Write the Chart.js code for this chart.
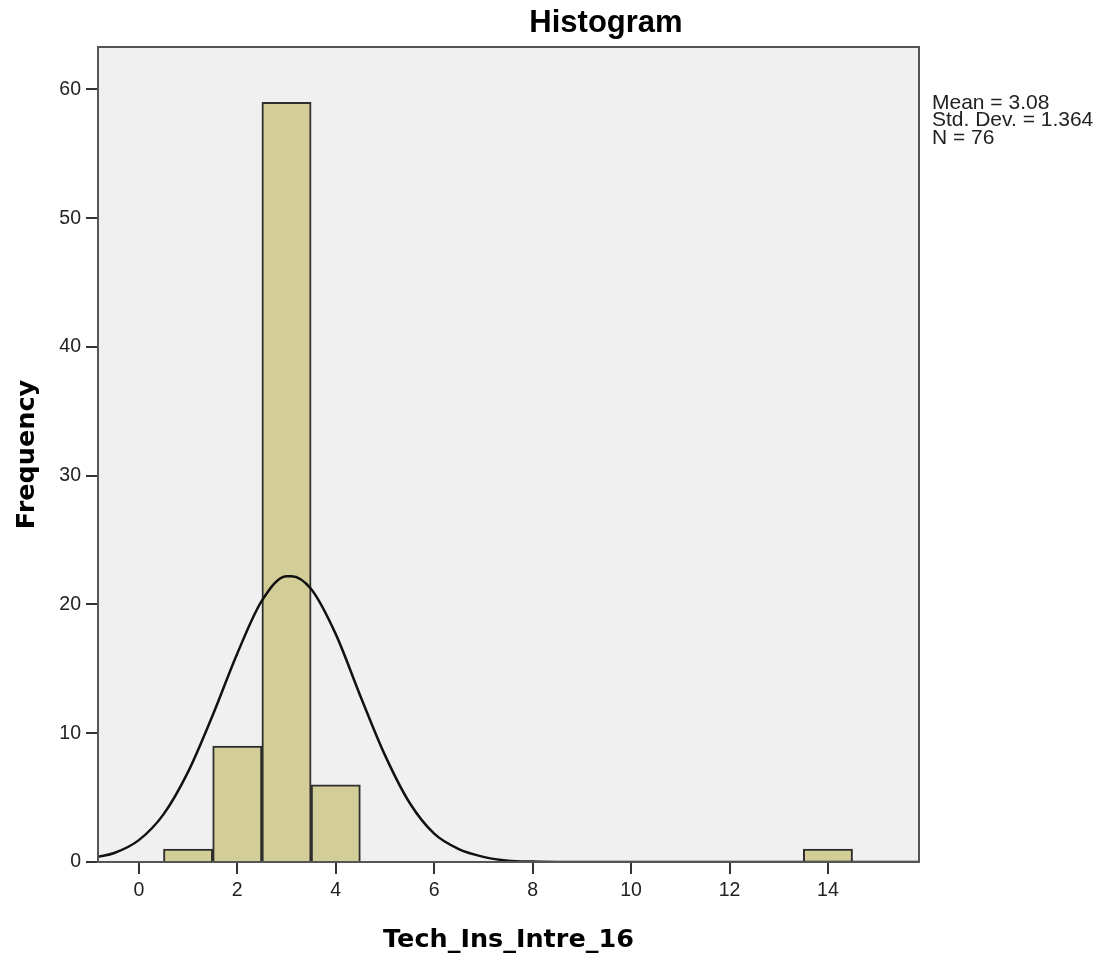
<!DOCTYPE html>
<html lang="en">
<head>
    <meta charset="UTF-8">
    <title>Histogram</title>
    <script src="https://cdn.jsdelivr.net/npm/chart.js"></script>
    <style>
        body {
            margin: 0;
            background-color: white;
        }

        .chart-box {
            width: 1109px;
            height: 957px;
        }
    </style>
</head>
<body>
    <div class="chart-box">
        <canvas id="histChart"></canvas>
    </div>

    <script>
        // Histogram bins (centre of each bin) and counts
        const binCenters = [1, 2, 3, 4, 14];
        const frequencies = [1, 9, 59, 6, 1];

        // Normal curve
        const curveX = [-0.83, -0.5, 0, 0.5, 1, 1.5, 2, 2.5, 3, 3.1, 3.5, 4, 4.5, 5, 5.5, 6, 6.5, 7, 7.5, 8, 8.5, 9, 10, 12, 14, 15.85];
        const curveY = [0.4, 0.7, 1.7, 3.7, 7.0, 11.4, 16.2, 20.3, 22.2, 22.2, 21.2, 17.7, 12.9, 8.3, 4.6, 2.2, 1.0, 0.4, 0.1, 0.03, 0, 0, 0, 0, 0, 0];

        const xTicks = [0, 2, 4, 6, 8, 10, 12, 14];
        const yTicks = [0, 10, 20, 30, 40, 50, 60];

        const statsLines = ['Mean = 3.08', 'Std. Dev. = 1.364', 'N = 76'];

        const tickFont = { family: "'Liberation Sans', Arial, sans-serif", size: 19.5 };
        const axisTitleFont = { family: "'DejaVu Sans', Verdana, sans-serif", size: 25.5, weight: 'bold' };

        // Plot background, frame, title and stats box
        const framePlugin = {
            id: 'frame',
            beforeDraw(chart) {
                const { ctx, chartArea: a } = chart;
                ctx.save();
                ctx.fillStyle = '#f0f0f0';
                ctx.fillRect(a.left, a.top, a.right - a.left, a.bottom - a.top);
                ctx.restore();
            },
            afterDraw(chart) {
                const { ctx, chartArea: a } = chart;
                ctx.save();
                ctx.strokeStyle = '#555';
                ctx.lineWidth = 2;
                ctx.strokeRect(a.left, a.top, a.right - a.left, a.bottom - a.top);

                ctx.fillStyle = '#000';
                ctx.font = "bold 31px 'Liberation Sans', Arial, sans-serif";
                ctx.textAlign = 'center';
                ctx.textBaseline = 'alphabetic';
                ctx.fillText('Histogram', 606, 32);

                ctx.fillStyle = '#222';
                ctx.font = "21px 'Liberation Sans', Arial, sans-serif";
                ctx.textAlign = 'left';
                statsLines.forEach((line, i) => {
                    ctx.fillText(line, 932, 109 + i * 17.3);
                });
                ctx.restore();
            }
        };

        const histChart = new Chart(document.getElementById('histChart'), {
            type: 'bar',
            data: {
                datasets: [
                    {
                        type: 'line',
                        label: 'Normal',
                        data: curveX.map((x, i) => ({ x: x, y: curveY[i] })),
                        borderColor: '#111',
                        borderWidth: 2.5,
                        pointRadius: 0,
                        fill: false,
                        tension: 0.4,
                        cubicInterpolationMode: 'monotone',
                        order: 0,
                    },
                    {
                        type: 'bar',
                        label: 'Frequency',
                        data: binCenters.map((x, i) => ({ x: x, y: frequencies[i] })),
                        backgroundColor: '#d3ce97',
                        borderColor: '#2e2e2e',
                        borderWidth: 2,
                        barPercentage: 1,
                        categoryPercentage: 1,
                        order: 1,
                    }
                ]
            },
            options: {
                responsive: true,
                maintainAspectRatio: false,
                animation: false,
                layout: {
                    padding: { top: 47, right: 190, left: 0, bottom: 0 }
                },
                plugins: {
                    legend: { display: false },
                    tooltip: { enabled: false },
                },
                scales: {
                    x: {
                        type: 'linear',
                        min: -0.83,
                        max: 15.85,
                        offset: false,
                        grid: {
                            offset: false,
                            drawOnChartArea: false,
                            drawTicks: true,
                            tickLength: 12,
                            color: '#333',
                            lineWidth: 2,
                        },
                        border: { display: true, color: '#333', width: 2 },
                        afterBuildTicks: (scale) => {
                            scale.ticks = xTicks.map(v => ({ value: v }));
                        },
                        ticks: {
                            font: tickFont,
                            color: '#222',
                            padding: 5,
                            maxRotation: 0,
                        },
                        title: {
                            display: true,
                            text: 'Tech_Ins_Intre_16',
                            font: axisTitleFont,
                            color: '#000',
                            padding: { top: 0, bottom: 1 },
                        },
                        afterFit: (scale) => {
                            scale.height = 95;
                        }
                    },
                    y: {
                        min: 0,
                        max: 63.3,
                        grid: {
                            drawOnChartArea: false,
                            drawTicks: true,
                            tickLength: 12,
                            color: '#333',
                            lineWidth: 2,
                        },
                        border: { display: true, color: '#333', width: 2 },
                        afterBuildTicks: (scale) => {
                            scale.ticks = yTicks.map(v => ({ value: v }));
                        },
                        ticks: {
                            font: tickFont,
                            color: '#222',
                            padding: 5,
                        },
                        title: {
                            display: true,
                            text: 'Frequency',
                            font: axisTitleFont,
                            color: '#000',
                            padding: { top: 12, bottom: 0 },
                        },
                        afterFit: (scale) => {
                            scale.width = 98;
                        }
                    }
                }
            },
            plugins: [framePlugin]
        });
    </script>
</body>
</html>
